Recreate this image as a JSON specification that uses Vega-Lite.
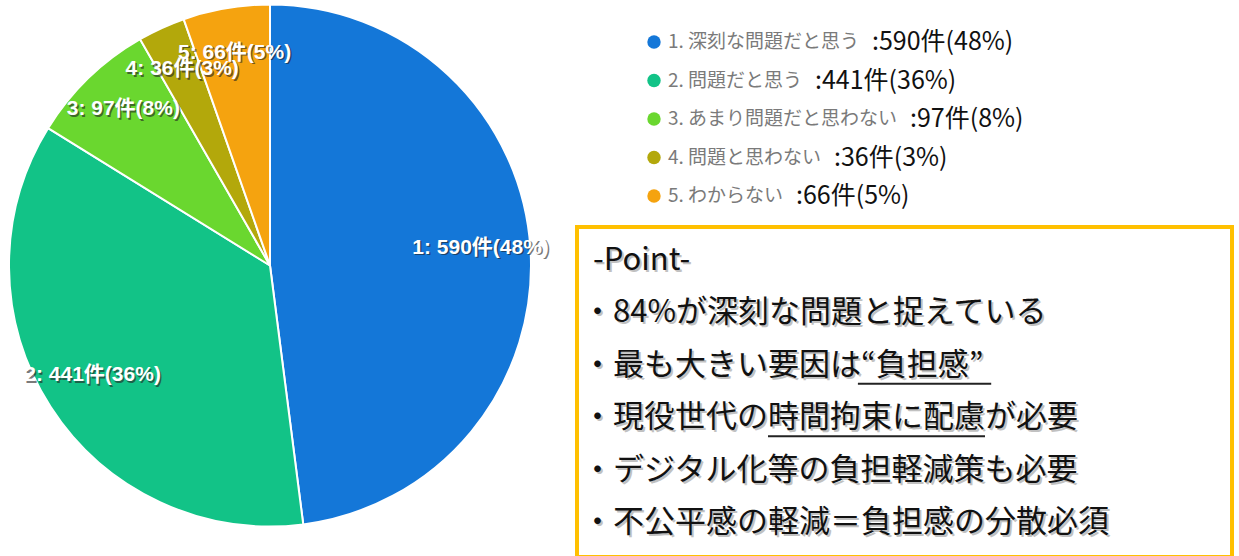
{
  "$schema": "https://vega.github.io/schema/vega-lite/v6.json",
  "padding": 0,
  "background": "white",
  "spacing": 37,
  "bounds": "flush",
  "config": {"view": {"stroke": null}, "font": "Noto Sans CJK JP"},
  "datasets": {
    "survey": [
      {"id": 1, "name": "1. 深刻な問題だと思う", "count": 590, "pieLabel": "1: 590件(48%)", "countLabel": ":590件(48%)"},
      {"id": 2, "name": "2. 問題だと思う", "count": 441, "pieLabel": "2: 441件(36%)", "countLabel": ":441件(36%)"},
      {"id": 3, "name": "3. あまり問題だと思わない", "count": 97, "pieLabel": "3: 97件(8%)", "countLabel": ":97件(8%)"},
      {"id": 4, "name": "4. 問題と思わない", "count": 36, "pieLabel": "4: 36件(3%)", "countLabel": ":36件(3%)"},
      {"id": 5, "name": "5. わからない", "count": 66, "pieLabel": "5: 66件(5%)", "countLabel": ":66件(5%)"}
    ],
    "points": [
      {"line": 1, "text": "-Point-"},
      {"line": 2, "text": "・84%が深刻な問題と捉えている"},
      {"line": 3, "text": "・最も大きい要因は“負担感”"},
      {"line": 4, "text": "・現役世代の時間拘束に配慮が必要"},
      {"line": 5, "text": "・デジタル化等の負担軽減策も必要"},
      {"line": 6, "text": "・不公平感の軽減＝負担感の分散必須"}
    ],
    "underlines": [
      {"line": 3, "emStart": 8.9, "emEnd": 13.2},
      {"line": 4, "emStart": 6, "emEnd": 13}
    ]
  },
  "hconcat": [
    {
      "width": 540,
      "height": 529,
      "data": {"name": "survey"},
      "encoding": {
        "theta": {"field": "count", "type": "quantitative", "stack": true},
        "order": {"field": "id", "type": "quantitative", "sort": "ascending"}
      },
      "layer": [
        {
          "mark": {"type": "arc", "outerRadius": 261, "stroke": "white", "strokeWidth": 2},
          "encoding": {
            "color": {
              "field": "name", "type": "nominal", "legend": null,
              "scale": {
                "domain": ["1. 深刻な問題だと思う", "2. 問題だと思う", "3. あまり問題だと思わない", "4. 問題と思わない", "5. わからない"],
                "range": ["#1477D8", "#12C387", "#6AD72F", "#B3A80B", "#F5A30F"]
              }
            }
          }
        },
        {
          "mark": {"type": "text", "radius": 211, "fontSize": 21, "fontWeight": "bold", "font": "Liberation Sans, Noto Sans CJK JP", "fill": "#222", "opacity": 0.6, "dx": 1.5, "dy": -3, "baseline": "middle"},
          "encoding": {"text": {"field": "pieLabel"}}
        },
        {
          "mark": {"type": "text", "radius": 211, "fontSize": 21, "fontWeight": "bold", "font": "Liberation Sans, Noto Sans CJK JP", "fill": "white", "dx": 0, "dy": -4.5, "baseline": "middle"},
          "encoding": {"text": {"field": "pieLabel"}}
        }
      ]
    },
    {
      "spacing": 10,
      "bounds": "flush",
      "vconcat": [
        {
          "width": 154,
          "height": 216,
          "data": {"name": "survey"},
          "encoding": {
            "y": {"field": "id", "type": "ordinal", "scale": {"type": "point", "range": [41, 195], "padding": 0}, "axis": null}
          },
          "layer": [
            {
              "mark": {"type": "point", "filled": true, "size": 180, "opacity": 1},
              "encoding": {
                "color": {
                  "field": "name", "type": "nominal", "legend": null,
                  "scale": {
                    "domain": ["1. 深刻な問題だと思う", "2. 問題だと思う", "3. あまり問題だと思わない", "4. 問題と思わない", "5. わからない"],
                    "range": ["#1477D8", "#12C387", "#6AD72F", "#B3A80B", "#F5A30F"]
                  }
                }
              }
            },
            {
              "mark": {"type": "text", "align": "left", "baseline": "middle", "dx": 14, "fontSize": 19, "fill": "#7a7a7a"},
              "encoding": {"text": {"field": "name"}}
            },
            {
              "mark": {"type": "text", "align": "left", "baseline": "middle", "dx": {"expr": "19*length(datum.name) - 10"}, "fontSize": 25, "fill": "#111111"},
              "encoding": {"text": {"field": "countLabel"}}
            }
          ]
        },
        {
          "width": 655,
          "height": 330,
          "view": {"stroke": "#FFC000", "strokeWidth": 4},
          "layer": [
            {
              "data": {"name": "points"},
              "mark": {"type": "text", "align": "left", "baseline": "middle", "fontSize": 31, "fill": "#999999", "opacity": 0.6, "dx": {"expr": "datum.line == 1 ? -309.5 : -320.5"}, "dy": 2},
              "encoding": {
                "y": {"field": "line", "type": "ordinal", "scale": {"type": "point", "domain": [1, 2, 3, 4, 5, 6], "padding": 0.649}, "axis": null},
                "text": {"field": "text"}
              }
            },
            {
              "data": {"name": "points"},
              "mark": {"type": "text", "align": "left", "baseline": "middle", "fontSize": 31, "fill": "#111111", "dx": {"expr": "datum.line == 1 ? -311.5 : -322.5"}},
              "encoding": {
                "y": {"field": "line", "type": "ordinal", "axis": null},
                "text": {"field": "text"}
              }
            },
            {
              "data": {"name": "underlines"},
              "mark": {"type": "rule", "stroke": "#222222", "strokeWidth": 2, "x": {"expr": "5 + 31*datum.emStart"}, "x2": {"expr": "5 + 31*datum.emEnd"}, "yOffset": 18},
              "encoding": {
                "y": {"field": "line", "type": "ordinal", "axis": null}
              }
            }
          ]
        }
      ]
    }
  ]
}
